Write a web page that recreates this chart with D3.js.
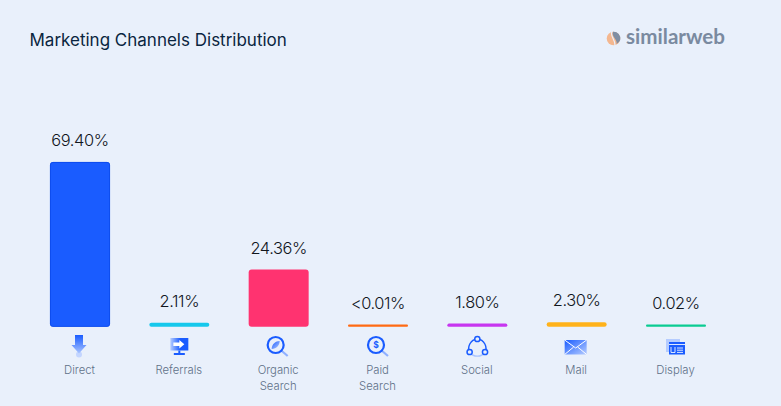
<!DOCTYPE html>
<html><head><meta charset="utf-8">
<script src="https://cdn.jsdelivr.net/npm/d3@7"></script>
<style>
html,body{margin:0;padding:0;background:#e9f0fb;overflow:hidden}
svg{display:block}
text{font-family:Inter,"Noto Sans",sans-serif}
</style></head><body><div id="c"></div>
<script>
const categories=["Direct","Referrals","Organic Search","Paid Search","Social","Mail","Display"];
const values=[69.40,2.11,24.36,0.005,1.80,2.30,0.02];
const valueLabels=["69.40%","2.11%","24.36%","<0.01%","1.80%","2.30%","0.02%"];
const colors=["#1a5cff","#16c8ec","#ff3370","#ff6a13","#c736f0","#ffb21a","#0acb92"];
const W=781,H=406;
const svg=d3.select("#c").append("svg").attr("width",W).attr("height",H);
const defs=svg.append("defs");
const ig=defs.append("linearGradient").attr("id","ig").attr("x1",0).attr("y1",0).attr("x2",1).attr("y2",1);
ig.append("stop").attr("offset",0).attr("stop-color","#1a5cff");
ig.append("stop").attr("offset",1).attr("stop-color","#b5ccff");
const ig2=defs.append("linearGradient").attr("id","ig2").attr("x1",0).attr("y1",0).attr("x2",0).attr("y2",1);
ig2.append("stop").attr("offset",0).attr("stop-color","#1a5cff");
ig2.append("stop").attr("offset",1).attr("stop-color","#a9c4ff");
const ig3=defs.append("linearGradient").attr("id","ig3").attr("x1",0).attr("y1",0).attr("x2",1).attr("y2",0);
ig3.append("stop").attr("offset",0).attr("stop-color","#b5ccff");
ig3.append("stop").attr("offset",0.55).attr("stop-color","#1a5cff");
svg.append("rect").attr("width",W).attr("height",H).attr("fill","#e9f0fb");

svg.append("text").attr("x",29.5).attr("y",46).attr("font-size",17).attr("fill","#092540").text("Marketing Channels Distribution");

// logo
const logo=svg.append("g").attr("transform","translate(613.5,38.5)");
logo.append("circle").attr("r",6.8).attr("fill","#f4b78f");
logo.append("path").attr("d","M-0.5,-6.8A6.8,6.8 0 0 1 6.7,1.5A6.8,6.8 0 0 1 3,5.5C4.5,1.5 -2.5,-2.5 -0.5,-6.8Z").attr("fill","#7f8ea3");
logo.append("path").attr("d","M-1.5,-6.8C-4,-3 1.5,0 1.5,6.8").attr("fill","none").attr("stroke","#e9f0fb").attr("stroke-width",1.2);
svg.append("text").attr("x",626).attr("y",44).attr("font-size",20.6).attr("font-weight",700).attr("fill","#7a8aa0").style("font-family","Lato").text("similarweb");

const x=d3.scalePoint().domain(categories).range([80,676]);
const y=d3.scaleLinear().domain([0.4,69.4]).range([326.8,162]);
const barW=60, minH=2.2;
const barTop=v=>Math.min(y(v),326.8-minH);
const g=svg.selectAll("g.col").data(categories).join("g").attr("class","col");
g.append("rect").attr("x",d=>x(d)-barW/2).attr("width",barW)
 .attr("y",(d,i)=>barTop(values[i])).attr("height",(d,i)=>326.8-barTop(values[i]))
 .attr("rx",(d,i)=>Math.min(3,(326.8-barTop(values[i]))/2))
 .attr("fill",(d,i)=>colors[i]);
// thin darker edge on the tall blue bar
g.filter((d,i)=>i===0).append("rect").attr("x",d=>x(d)-barW/2+.4).attr("width",barW-.8)
 .attr("y",barTop(values[0])+.4).attr("height",326.8-barTop(values[0])-.8).attr("rx",2.6)
 .attr("fill","none").attr("stroke","#0a49e8").attr("stroke-width",.8);
g.append("text").attr("x",d=>x(d)).attr("y",(d,i)=>barTop(values[i])-15.8)
 .attr("text-anchor","middle").attr("font-size",16.4).attr("font-weight",300).attr("fill","#11161d").attr("letter-spacing",-0.4).text((d,i)=>valueLabels[i]);
g.each(function(d){
  const words=d.split(" ");
  const t=d3.select(this).append("text").attr("text-anchor","middle").attr("font-size",11.3).attr("font-weight",300).attr("fill","#5f7088");
  words.forEach((w,i)=>t.append("tspan").attr("x",x(d)-.5).attr("y",374+i*16).text(w));
});

// icons, drawn in a local frame centred under each bar
const icons=[
 s=>{s.append("circle").attr("cy",8.5).attr("r",3).attr("fill","#c3d5ff");
     s.append("path").attr("d","M-4,-11H4V-1H7.5L0,7.5L-7.5,-1H-4Z").attr("fill","url(#ig2)");},
 s=>{s.append("rect").attr("x",-9).attr("y",-8).attr("width",18).attr("height",12.5).attr("fill","url(#ig3)");
     s.append("path").attr("d","M-6,-3.5H0V-6L5,-1.8L0,2.5V0H-6Z").attr("fill","#fff");
     s.append("rect").attr("x",-1).attr("y",4.5).attr("width",2).attr("height",2.5).attr("fill","#1a5cff");
     s.append("rect").attr("x",-5.5).attr("y",7).attr("width",11).attr("height",2).attr("fill","#1a5cff");},
 s=>{s.append("line").attr("x1",5).attr("y1",5).attr("x2",12).attr("y2",11).attr("stroke","#8fb0ff").attr("stroke-width",2.2);
     s.append("circle").attr("r",8).attr("fill","none").attr("stroke","#1a5cff").attr("stroke-width",2.2);
     s.append("path").attr("d","M-4,4C-4,-1 0,-4 4,-4C4,0 1,4 -4,4Z").attr("fill","url(#ig)");},
 s=>{s.append("line").attr("x1",5).attr("y1",5).attr("x2",12).attr("y2",11).attr("stroke","#8fb0ff").attr("stroke-width",2.2);
     s.append("circle").attr("r",8).attr("fill","none").attr("stroke","#1a5cff").attr("stroke-width",2.2);
     s.append("text").attr("text-anchor","middle").attr("y",3.2).attr("font-size",8.5).attr("font-weight",700).attr("fill","#1a5cff").text("$");},
 s=>{s.append("path").attr("d","M-7.5,6A9.5,9.5 0 0 1 0,-8").attr("fill","none").attr("stroke","#1a5cff").attr("stroke-width",1.4);
     s.append("path").attr("d","M0,-8A9.5,9.5 0 0 1 7.5,6").attr("fill","none").attr("stroke","#1a5cff").attr("stroke-width",1.4);
     s.append("path").attr("d","M-7.5,5.5A9.5,9.5 0 0 0 7.5,5.5").attr("fill","none").attr("stroke","#a9c4ff").attr("stroke-width",1.4);
     [[0,-8],[-7.7,5],[7.7,5]].forEach(c=>s.append("circle").attr("cx",c[0]).attr("cy",c[1]).attr("r",2.6).attr("fill","#e9f0fb").attr("stroke","#1a5cff").attr("stroke-width",1.5));},
 s=>{s.append("rect").attr("x",-11).attr("y",-7).attr("width",22).attr("height",14.5).attr("fill","url(#ig)");
     s.append("path").attr("d","M-11,-7L0,1L11,-7M-11,7.5L-2,0M11,7.5L2,0").attr("fill","none").attr("stroke","#fff").attr("stroke-width",1);},
 s=>{s.append("rect").attr("x",-10).attr("y",-8).attr("width",14).attr("height",13).attr("fill","#b5ccff");
     s.append("rect").attr("x",-7).attr("y",-5).attr("width",16).attr("height",12.5).attr("fill","#1a5cff");
     s.append("path").attr("d","M-7,-2.5H9M-5,0V5.5H-1V0M1,1H7M1,3.2H7M1,5.4H7").attr("fill","none").attr("stroke","#dce7ff").attr("stroke-width",1);}
];
const iconDx=[-1,0,-3,-2,0,-1,0], iconY=[346,346,345,345,347,347,347];
g.each(function(d,i){
  const s=d3.select(this).append("g").attr("transform",`translate(${x(d)+iconDx[i]},${iconY[i]})`);
  icons[i](s);
});
</script></body></html>
